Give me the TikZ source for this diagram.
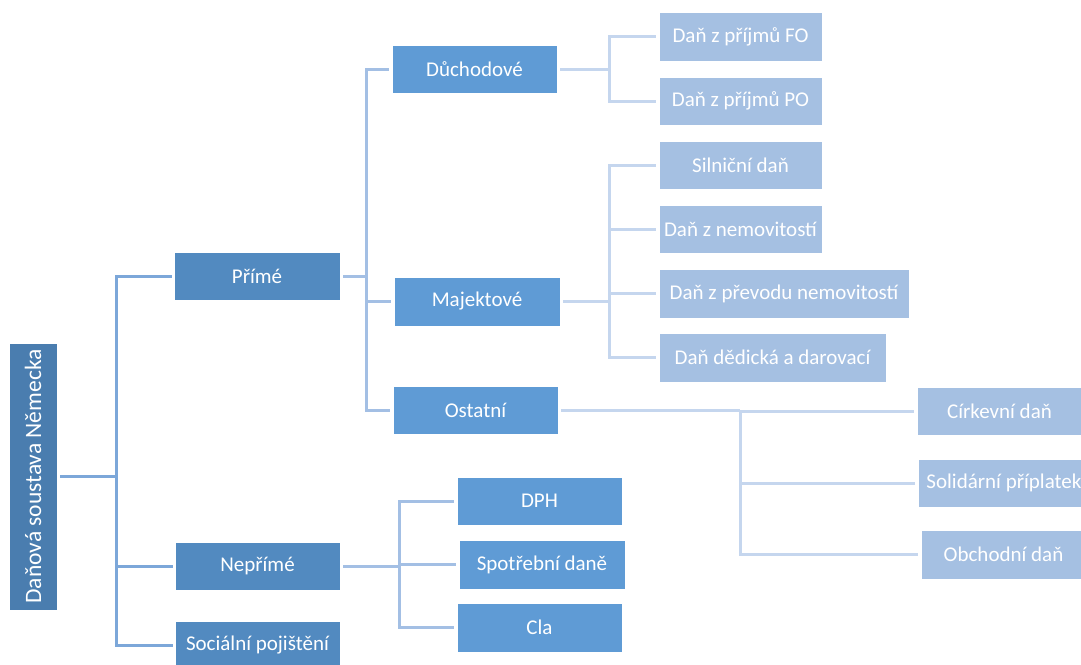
\documentclass[tikz,border=0pt]{standalone}
\usepackage{fontspec}
\setmainfont{Carlito}
\usetikzlibrary{calc}
\definecolor{rootc}{RGB}{74,125,175}
\definecolor{lvone}{RGB}{82,138,192}
\definecolor{lvtwo}{RGB}{95,155,213}
\definecolor{lvthree}{RGB}{165,192,226}
\definecolor{cone}{RGB}{124,167,217}
\definecolor{ctwo}{RGB}{163,191,228}
\definecolor{cthree}{RGB}{197,214,238}
\tikzset{
  box/.style={anchor=north west, inner sep=0pt, outer sep=0pt, text=white,
    font=\fontsize{21}{25}\selectfont, align=center, draw=white, line width=0.6pt},
  rootbox/.style={box, fill=rootc, font=\fontsize{23.5}{28}\selectfont},
  onebox/.style={box, fill=lvone},
  twobox/.style={box, fill=lvtwo},
  threebox/.style={box, fill=lvthree},
  sz/.style 2 args={minimum width=#1pt, minimum height=#2pt},
  linkone/.style={draw=cone, line width=3pt},
  linktwo/.style={draw=ctwo, line width=3pt},
  linkthree/.style={draw=cthree, line width=3pt},
}
\begin{document}
\begin{tikzpicture}[x=1pt,y=-1pt]
\useasboundingbox (0,0) rectangle (1081,664);
\clip (0,0) rectangle (1081,664);
% trunk x positions
\coordinate (tA) at (116,0);
\coordinate (tB) at (366,0);
\coordinate (tC) at (609,0);
\coordinate (tD) at (740,0);
\coordinate (tE) at (399,0);
% boxes
\path (9,343) node[rootbox, sz={48}{267}] (root) {\rotatebox{90}{Daňová soustava Německa}};
\path (174,252) node[onebox, sz={166}{48}] (prime) {Přímé};
\path (175,542) node[onebox, sz={165}{48}] (neprime) {Nepřímé};
\path (175,621) node[onebox, sz={165}{48}] (social) {Sociální pojištění};
\path (392,45) node[twobox, sz={165}{48}] (duch) {Důchodové};
\path (394,277) node[twobox, sz={166}{49}] (majek) {Majektové};
\path (393,386) node[twobox, sz={165}{48}] (ostat) {Ostatní};
\path (457,477) node[twobox, sz={165}{48}] (dph) {DPH};
\path (459,540) node[twobox, sz={166}{49}] (spot) {Spotřební daně};
\path (457,603) node[twobox, sz={165}{49}] (cla) {Cla};
\path (659,12) node[threebox, sz={163}{49}] (fo) {Daň z příjmů FO};
\path (659,77) node[threebox, sz={163}{48}] (po) {Daň z příjmů PO};
\path (659,141) node[threebox, sz={163}{48}] (siln) {Silniční daň};
\path (659,205) node[threebox, sz={163}{48}] (nemov) {Daň z nemovitostí};
\path (659,269) node[threebox, sz={250}{49}] (prevod) {Daň z převodu nemovitostí};
\path (659,333) node[threebox, sz={227}{49}] (dedic) {Daň dědická a darovací};
\path (917,387) node[threebox, sz={165}{48}] (cirk) {Církevní daň};
\path (918,459) node[threebox, sz={172}{48}] (solid) {Solidární příplatek};
\path (921,530) node[threebox, sz={165}{49}] (obch) {Obchodní daň};
% root -> level 1
\draw[linkone] ([xshift=3pt]root.east) -- (root.east -| tA);
\foreach \n in {prime,neprime,social}
  \draw[linkone] (root.east -| tA) |- ([xshift=-2pt]\n.west);
% Přímé -> level 2
\draw[linktwo] ([xshift=3pt]prime.east) -- (prime.east -| tB);
\foreach \n in {duch,majek,ostat}
  \draw[linktwo] (prime.east -| tB) |- ([xshift=-3pt]\n.west);
% Nepřímé -> level 2
\draw[linktwo] ([xshift=3pt]neprime.east) -- (neprime.east -| tE);
\foreach \n in {dph,spot,cla}
  \draw[linktwo] (neprime.east -| tE) |- ([xshift=-3pt]\n.west);
% Důchodové -> level 3
\draw[linkthree] ([xshift=3pt]duch.east) -- (duch.east -| tC);
\foreach \n in {fo,po}
  \draw[linkthree] (duch.east -| tC) |- ([xshift=-3pt]\n.west);
% Majektové -> level 3
\draw[linkthree] ([xshift=3pt]majek.east) -- (majek.east -| tC);
\foreach \n in {siln,nemov,prevod,dedic}
  \draw[linkthree] (majek.east -| tC) |- ([xshift=-3pt]\n.west);
% Ostatní -> level 3
\draw[linkthree] ([xshift=3pt]ostat.east) -- (ostat.east -| tD);
\foreach \n in {cirk,solid,obch}
  \draw[linkthree] (ostat.east -| tD) |- ([xshift=-3pt]\n.west);
\end{tikzpicture}
\end{document}
